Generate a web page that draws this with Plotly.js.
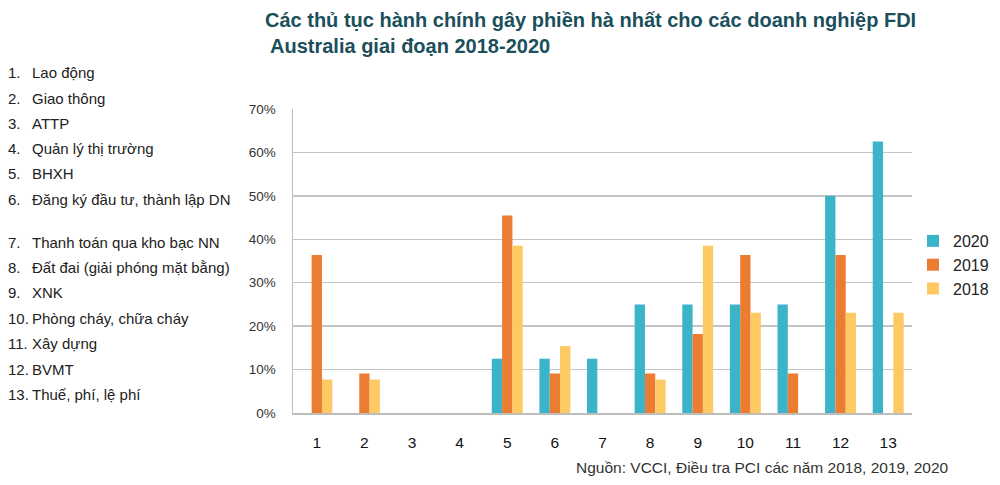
<!DOCTYPE html>
<html>
<head>
<meta charset="utf-8">
<script src="https://cdn.plot.ly/plotly-3.0.1.min.js"></script>
<style>html,body{margin:0;padding:0;background:#fff;}#chart{width:1000px;height:485px;}</style>
</head>
<body>
<div id="chart"></div>
<script>
var categories = ["1","2","3","4","5","6","7","8","9","10","11","12","13"];
var series2020 = [null,null,null,null,12.5,12.5,12.5,25,25,25,25,50,62.5];
var series2019 = [36.4,9.1,null,null,45.5,9.1,null,9.1,18.2,36.4,9.1,36.4,null];
var series2018 = [7.7,7.7,null,null,38.5,15.4,null,7.7,38.5,23.1,null,23.1,23.1];
var seriesNames = ["2020","2019","2018"];
var listNumbers = ["1.","2.","3.","4.","5.","6.","7.","8.","9.","10.","11.","12.","13."];
var listLabels = ["Lao động","Giao thông","ATTP","Quản lý thị trường","BHXH","Đăng ký đầu tư, thành lập DN","Thanh toán qua kho bạc NN","Đất đai (giải phóng mặt bằng)","XNK","Phòng cháy, chữa cháy","Xây dựng","BVMT","Thuế, phí, lệ phí"];
var yTicks = [0,10,20,30,40,50,60,70];
var titleLines = ["Các thủ tục hành chính gây phiền hà nhất cho các doanh nghiệp FDI", "Australia giai đoạn 2018-2020"];
var sourceText = "Nguồn: VCCI, Điều tra PCI các năm 2018, 2019, 2020";

var colors = ["#3bb4ca","#ea7d32","#fdc962"];
var font = "Liberation Sans, Arial, sans-serif";
var traces = [series2020, series2019, series2018].map(function(vals, i){
  return {type:"bar", x:categories, y:vals, name:seriesNames[i], marker:{color:colors[i]},
          legendgroup:"g"+i, hoverinfo:"y"};
});

var L=293, R=912, T=109, B=413;
function px(x){return (x-L)/(R-L);}
function py(y){return (B-y)/(B-T);}

var listY = [72,98,123,148,173,199,242,267,292,318,343,369,394];
var annotations = [];
listLabels.forEach(function(t,i){
  annotations.push({text:listNumbers[i], xref:"paper", yref:"paper", x:px(6), y:py(listY[i]),
          xanchor:"left", yanchor:"middle", showarrow:false, font:{family:font,size:15,color:"#222"}});
  annotations.push({text:t, xref:"paper", yref:"paper", x:px(30), y:py(listY[i]),
          xanchor:"left", yanchor:"middle", showarrow:false, font:{family:font,size:15,color:"#222"}});
});
annotations.push({text:titleLines[0], xref:"paper", yref:"paper", x:px(263), y:py(20), xanchor:"left", yanchor:"middle",
  showarrow:false, font:{family:font,size:20,color:"#1c4f5c",weight:"bold"}});
annotations.push({text:titleLines[1], xref:"paper", yref:"paper", x:px(268), y:py(46.5), xanchor:"left", yanchor:"middle",
  showarrow:false, font:{family:font,size:20,color:"#1c4f5c",weight:"bold"}});
annotations.push({text:sourceText, xref:"paper", yref:"paper", x:px(951), y:py(467), xanchor:"right", yanchor:"middle",
  showarrow:false, font:{family:font,size:15.5,color:"#333"}});

var layout = {
  width:1000, height:485,
  margin:{l:L, r:1000-R, t:T, b:485-B, autoexpand:false},
  paper_bgcolor:"#fff", plot_bgcolor:"#fff",
  barmode:"group", bargap:0.35, bargroupgap:0,
  xaxis:{type:"category", showgrid:false, showline:true, linecolor:"#bdbdbd", linewidth:1.5, ticks:"",
         tickfont:{family:font,size:15.5,color:"#111"}, ticklabelstandoff:15},
  yaxis:{range:[0,70], tickvals:yTicks, ticktext:yTicks.map(function(v){return v+"%";}), showgrid:true, gridcolor:"#c4c4c4", gridwidth:1.5,
         showline:true, linecolor:"#bdbdbd", linewidth:1.5, zeroline:false, ticks:"", ticklabelstandoff:13,
         tickfont:{family:font,size:13.5,color:"#333"}},
  legend:{xref:"container", yref:"container", x:0.913, xanchor:"left", y:1-224/485, yanchor:"top",
          font:{family:font,size:16,color:"#222"}, bgcolor:"rgba(0,0,0,0)", itemwidth:30, tracegroupgap:0},
  showlegend:true,
  annotations:annotations
};
Plotly.newPlot("chart", traces, layout, {displayModeBar:false, staticPlot:true});
</script>
</body>
</html>
